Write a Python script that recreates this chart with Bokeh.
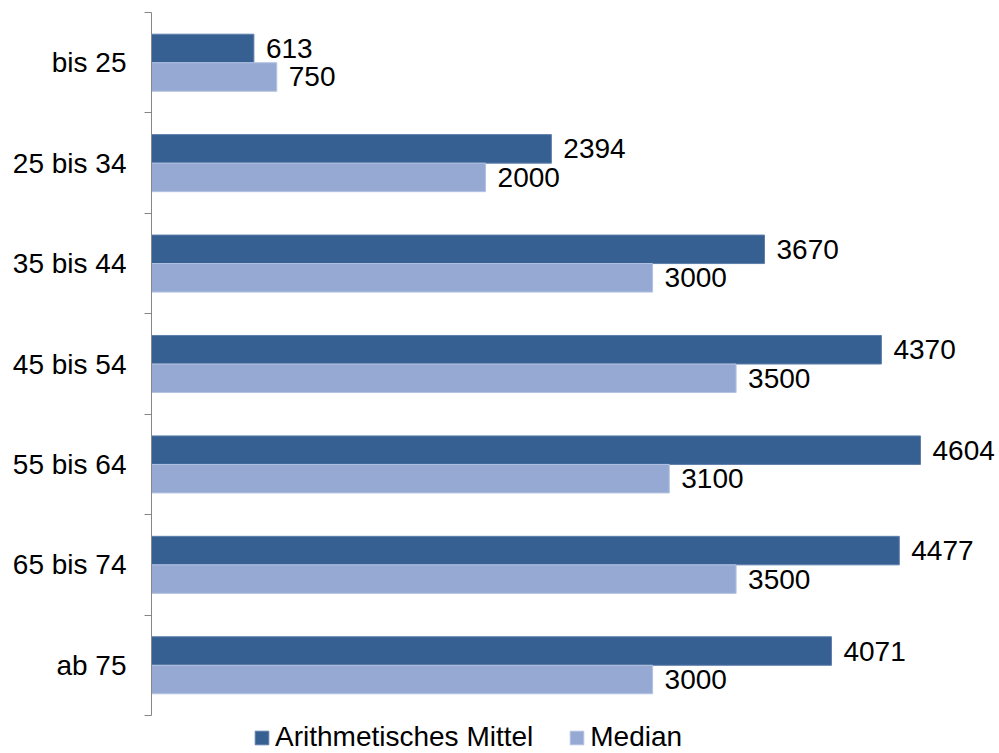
from bokeh.plotting import figure
from bokeh.models import (Range1d, LinearAxis, FixedTicker, CustomJSTickFormatter,
                          Legend, LegendItem, ColumnDataSource)
from bokeh.transform import dodge
from bokeh.core.properties import value
from bokeh.embed import file_html
from bokeh.resources import INLINE

categories = ["bis 25", "25 bis 34", "35 bis 44", "45 bis 54", "55 bis 64", "65 bis 74", "ab 75"]
mean_values = [613, 2394, 3670, 4370, 4604, 4477, 4071]
median_values = [750, 2000, 3000, 3500, 3100, 3500, 3000]
series_names = ["Arithmetisches Mittel", "Median"]

FONT = "Liberation Sans"
FS = "28px"
DARK = "#376092"
LIGHT = "#95A9D2"
AXIS = "#868686"

n = len(categories)
# category slots, first category on top
slot = [n - 1 - i + 0.5 for i in range(n)]
src = ColumnDataSource(dict(slot=slot, cat=categories, mean=mean_values, median=median_values))

band_px = 703 / n  # pixel height of one category band
p = figure(width=999, height=753, output_backend="svg", toolbar_location=None,
           y_range=Range1d(-38 / band_px, n + 12 / band_px),
           x_range=Range1d(0, 5077), x_axis_location=None, y_axis_location=None,
           min_border_left=151, min_border_right=0, min_border_top=0, min_border_bottom=0)
p.outline_line_color = None
p.xgrid.visible = False
p.ygrid.visible = False
p.background_fill_color = "white"

# axis line with ticks between the categories
tick_axis = LinearAxis(ticker=FixedTicker(ticks=list(range(n + 1))), bounds=(0, n),
                       formatter=CustomJSTickFormatter(code="return ''"),
                       major_tick_out=7, major_tick_in=0, minor_tick_line_color=None,
                       major_label_standoff=0,
                       axis_line_color=AXIS, major_tick_line_color=AXIS)
p.add_layout(tick_axis, "left")

# category names at the centre of each band
cat_axis = LinearAxis(ticker=FixedTicker(ticks=slot),
                      formatter=CustomJSTickFormatter(args=dict(names=categories),
                                                      code="return names[names.length - 1 - Math.floor(tick)]"),
                      axis_line_color=None, major_tick_line_color=None,
                      minor_tick_line_color=None, major_tick_out=0, major_tick_in=0,
                      major_label_standoff=18,
                      major_label_text_font=FONT, major_label_text_font_size=FS,
                      major_label_text_color="black")
p.add_layout(cat_axis, "left")

bh = 0.284
off = bh / 2
r_mean = p.hbar(y=dodge("slot", off), right="mean", left=0, height=bh,
                source=src, fill_color=DARK, line_color="#5D7EAB", line_width=1)
r_med = p.hbar(y=dodge("slot", -off), right="median", left=0, height=bh,
               source=src, fill_color=LIGHT, line_color="#B4C3E2", line_width=1)

p.text(x="mean", y=dodge("slot", off), text="mean", source=src,
       x_offset=12, text_baseline="middle", text_align="left",
       text_font=value(FONT), text_font_size=value(FS), text_color="black")
p.text(x="median", y=dodge("slot", -off), text="median", source=src,
       x_offset=12, text_baseline="middle", text_align="left",
       text_font=value(FONT), text_font_size=value(FS), text_color="black")

legend = Legend(items=[LegendItem(label=series_names[0], renderers=[r_mean]),
                       LegendItem(label=series_names[1], renderers=[r_med])],
                orientation="horizontal", location=(102, 0),
                glyph_width=17, glyph_height=17, label_standoff=5, spacing=35,
                padding=0, margin=0, border_line_color=None, background_fill_alpha=0,
                label_text_font=FONT, label_text_font_size=FS, label_text_color="black")
p.add_layout(legend, "center")

open("out.html", "w").write(file_html(p, INLINE))
